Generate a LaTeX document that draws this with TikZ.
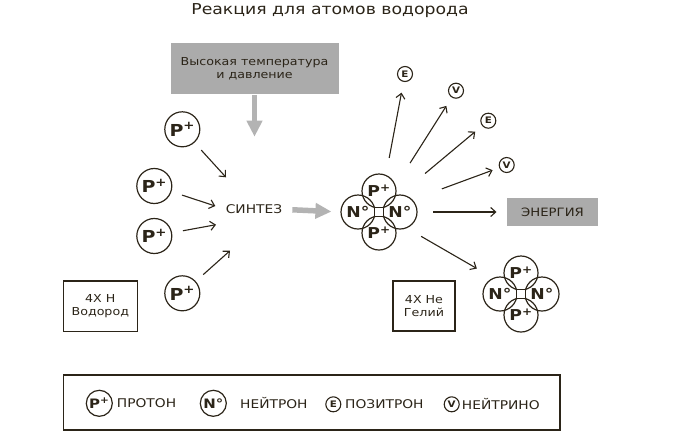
\documentclass[tikz,border=0pt]{standalone}
\usepackage{fontspec}
\setmainfont{DejaVu Sans}[FakeStretch=1.15]
\usetikzlibrary{arrows.meta,calc}
\definecolor{ink}{HTML}{2B2418}
\definecolor{boxgray}{HTML}{ABABAB}
\definecolor{arrgray}{HTML}{B3B3B3}
\newcommand\fs[1]{\fontsize{#1}{#1}\selectfont}
\newcommand\Pp{P\textsuperscript{+}}
\newcommand\Nn{N°}
\tikzset{
  ln/.style={draw=ink, line width=1.1pt},
  arr/.style={draw=ink, line width=1.1pt, -{Straight Barb[length=5pt,width=9pt]}},
  garrow/.style={draw=arrgray, line width=5.5pt, -{Triangle[length=16pt,width=15pt]}},
  bigp/.style={circle, draw=ink, line width=1.2pt, minimum size=35pt, inner sep=0pt, text=ink, font=\bfseries\fs{16.5}},
  hp/.style={circle, draw=ink, line width=1.2pt, minimum size=34pt, inner sep=0pt, text=ink, font=\bfseries\fs{15}},
  legp/.style={circle, draw=ink, line width=1.2pt, minimum size=26pt, inner sep=0pt, text=ink, font=\bfseries\fs{13}},
  tinyp/.style={circle, draw=ink, line width=1.1pt, minimum size=15pt, inner sep=0pt, text=ink, font=\bfseries\fs{9}},
  sq/.style={rectangle, draw=ink, fill=white, line width=1.1pt, minimum size=9pt, inner sep=0pt},
  lbl/.style={text=ink, inner sep=0pt, font=\fs{12}},
  frame/.style={draw=ink, line width=1.2pt, align=center, text=ink, inner sep=0pt, font=\fs{11}},
  helium/.pic={
    \node[hp] (-t) at (0,-21) {\Pp};
    \node[hp] (-b) at (0,21) {\Pp};
    \node[hp] (-l) at (-21,0) {\Nn};
    \node[hp] (-r) at (21,0) {\Nn};
    \node[sq] (-c) at (0,0) {};
  }
}
\begin{document}
\begin{tikzpicture}[x=1pt,y=-1pt]
\useasboundingbox (0,0) rectangle (676,440);
% title
\node[text=ink, inner sep=0pt, font=\fs{15}] (title) at (330,11) {Реакция для атомов водорода};
% condition box
\node[fill=boxgray, minimum width=168pt, minimum height=51pt, inner sep=0pt, align=center, text=ink, font=\fs{11}] (cond) at (254.5,68.7) {Высокая температура\\[2pt]и давление};
\coordinate (condtip) at (254.5,136.7);
\draw[garrow, shorten <=0.5pt] (cond.south) -- (condtip);
% protons
\node[bigp] (p1) at (182.3,129.3) {\Pp};
\node[bigp] (p2) at (154.3,186) {\Pp};
\node[bigp] (p3) at (154.3,236) {\Pp};
\node[bigp] (p4) at (182.3,293.3) {\Pp};
\node[lbl] (synth) at (254,209.3) {СИНТЕЗ};
\coordinate (h1) at (226,177.3);
\coordinate (h2) at (215.3,206);
\coordinate (h3) at (216,224.7);
\coordinate (h4) at (230,250.7);
\draw[arr, shorten <=10pt] (p1) -- (h1);
\draw[arr, shorten <=11pt] (p2) -- (h2);
\draw[arr, shorten <=11pt] (p3) -- (h3);
\draw[arr, shorten <=10pt] (p4) -- (h4);
% helium 1
\pic (he1) at (379,212) {helium};
\draw[garrow, shorten <=10pt, shorten >=9pt] (synth.east) -- (he1-l.west);
% emitted particles
\node[tinyp] (e1) at (405,74) {E};
\node[tinyp] (v1) at (456,90.7) {V};
\node[tinyp] (e2) at (488.3,120.7) {E};
\node[tinyp] (v2) at (506.7,165) {V};
\draw[arr, shorten <=55pt, shorten >=19pt] (he1-c.center) -- (e1.center);
\draw[arr, shorten <=58pt, shorten >=18pt] (he1-c.center) -- (v1.center);
\draw[arr, shorten <=60pt, shorten >=17pt] (he1-c.center) -- (e2.center);
\draw[arr, shorten <=67pt, shorten >=15pt] (he1-c.center) -- (v2.center);
% energy
\node[fill=boxgray, minimum width=91.6pt, minimum height=28.3pt, inner sep=0pt, text=ink, font=\fs{11.5}] (energy) at (552.5,212) {ЭНЕРГИЯ};
\draw[arr, shorten <=54pt, shorten >=10pt] (he1-c.center) -- (energy.west);
% helium 2
\pic (he2) at (521,294) {helium};
\draw[arr, shorten <=48.7pt, shorten >=51pt] (he1-c.center) -- (he2-c.center);
% frames
\node[frame, minimum width=74pt, minimum height=50.7pt] (hbox) at (100.3,306.3) {4X H\\[2pt]Водород};
\node[frame, minimum width=62pt, minimum height=50pt] (hebox) at (424,306) {4X He\\[2pt]Гелий};
% legend
\node[draw=ink, line width=1.4pt, minimum width=496.7pt, minimum height=55pt, inner sep=0pt] (legend) at (311.7,402.5) {};
\node[legp] (lp) at (99.3,403.3) {\Pp};
\node[lbl, anchor=west] (lpt) at (116.7,403.3) {ПРОТОН};
\node[legp] (ln) at (213.3,403.3) {\Nn};
\node[lbl, anchor=west] (lnt) at (240,403.3) {НЕЙТРОН};
\node[tinyp] (le) at (333.3,404.3) {E};
\node[lbl, anchor=west] (let) at (345,404.3) {ПОЗИТРОН};
\node[tinyp] (lv) at (451.7,404.3) {V};
\node[lbl, anchor=west] (lvt) at (461.7,404.3) {НЕЙТРИНО};
\end{tikzpicture}
\end{document}
